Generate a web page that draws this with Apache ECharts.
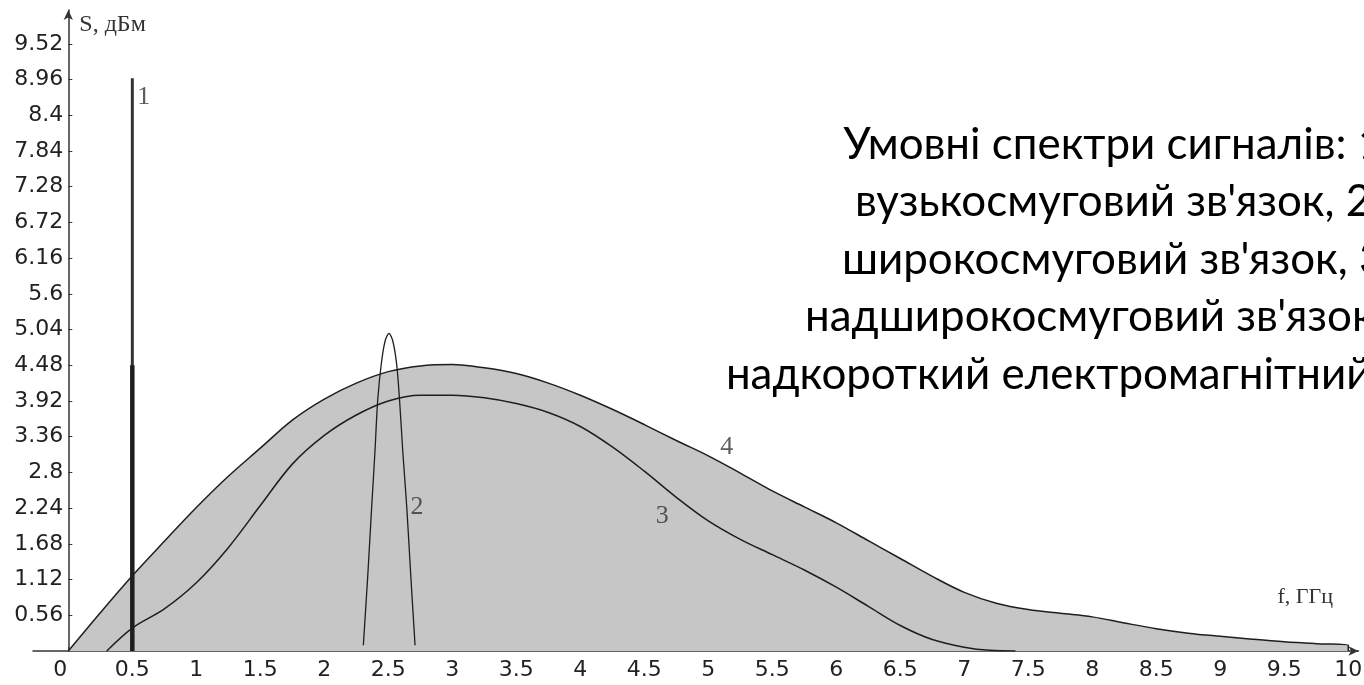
<!DOCTYPE html>
<html>
<head>
<meta charset="utf-8">
<script src="https://cdn.jsdelivr.net/npm/echarts@6/dist/echarts.min.js"></script>
<style>
html,body{margin:0;padding:0;background:#fff;}
#chart{width:1364px;height:685px;}
</style>
</head>
<body>
<div id="chart"></div>
<script>
// ---- data ----
const freqTicks = [0, 0.5, 1, 1.5, 2, 2.5, 3, 3.5, 4, 4.5, 5, 5.5, 6, 6.5, 7, 7.5, 8, 8.5, 9, 9.5, 10];
const powerTicks = [0.56, 1.12, 1.68, 2.24, 2.8, 3.36, 3.92, 4.48, 5.04, 5.6, 6.16, 6.72, 7.28, 7.84, 8.4, 8.96, 9.52];

// 1 – narrowband (vertical line at 0.5 GHz)
const narrowband = [[0.5, 0], [0.5, 8.98]];
const narrowbandCore = [[0.5, 0], [0.5, 4.48]];
// 2 – wideband
const wideband = [[2.305, 0.09], [2.34, 1.2], [2.37, 2.26], [2.395, 3.1], [2.417, 3.93], [2.445, 4.5], [2.475, 4.86], [2.505, 4.98],
  [2.535, 4.86], [2.565, 4.5], [2.588, 3.93], [2.614, 3.1], [2.644, 2.26], [2.675, 1.2], [2.709, 0.09]];
// 3 – ultra-wideband
const ultraWideband = [[0.3, 0], [0.5, 0.36], [0.75, 0.66], [1.0, 1.07], [1.25, 1.62], [1.5, 2.28], [1.75, 2.93], [2.0, 3.38],
  [2.25, 3.7], [2.5, 3.92], [2.75, 4.01], [3.0, 4.01], [3.25, 3.97], [3.5, 3.88], [3.75, 3.74], [4.0, 3.52], [4.25, 3.2],
  [4.5, 2.82], [4.75, 2.41], [5.0, 2.04], [5.25, 1.75], [5.5, 1.51], [5.75, 1.27], [6.0, 1.0], [6.25, 0.7], [6.5, 0.4],
  [6.75, 0.18], [7.0, 0.06], [7.2, 0.01], [7.4, 0]];
// 4 – ultra-short EM pulse
const shortPulse = [[0, 0], [0.25, 0.6], [0.5, 1.18], [0.75, 1.72], [1.0, 2.25], [1.25, 2.74], [1.5, 3.18], [1.75, 3.62], [2.0, 3.95],
  [2.25, 4.2], [2.5, 4.38], [2.75, 4.47], [3.0, 4.49], [3.25, 4.44], [3.5, 4.35], [3.75, 4.2], [4.0, 4.01], [4.25, 3.79],
  [4.5, 3.55], [4.75, 3.3], [5.0, 3.06], [5.25, 2.79], [5.5, 2.51], [5.75, 2.26], [6.0, 2.01], [6.25, 1.73], [6.5, 1.45],
  [6.75, 1.17], [7.0, 0.92], [7.25, 0.75], [7.5, 0.65], [7.75, 0.59], [8.0, 0.535], [8.25, 0.44], [8.5, 0.35], [8.75, 0.28],
  [9.0, 0.23], [9.25, 0.185], [9.5, 0.145], [9.75, 0.115], [10, 0.09], [10, 0]];

const curveNames = ['1', '2', '3', '4'];
const captionLines = [
  'Умовні спектри сигналів: 1 –',
  'вузькосмуговий зв\'язок, 2 –',
  'широкосмуговий зв\'язок, 3 –',
  'надширокосмуговий зв\'язок, 4 –',
  'надкороткий електромагнітний імпульс'
];

// ---- caption sizing ----
const capFamily = "Lato, 'Open Sans', sans-serif";
const cv = document.createElement('canvas').getContext('2d');
function measure(t, size) { cv.font = size + 'px ' + capFamily; return cv.measureText(t).width; }
const capSize = 100 * 515 / measure('Умовні спектри сигналів: ', 100);
const capCenter = 843 + measure(captionLines[0], capSize) / 2;

const ink = '#1e1e1e';
const tickFont = { fontFamily: 'DejaVu Sans', fontSize: 22, color: '#222' };
const chart = echarts.init(document.getElementById('chart'), null, { renderer: 'canvas' });
const lineSeries = (name, data, width, extra) => Object.assign({
  name, type: 'line', data, showSymbol: false, symbol: 'none', silent: true,
  lineStyle: { color: ink, width: width }, z: 3
}, extra || {});

chart.setOption({
  animation: false,
  backgroundColor: '#ffffff',
  grid: { left: 33, right: 5.5, top: 10, bottom: 34, containLabel: false, outerBoundsMode: 'none' },
  xAxis: {
    type: 'value', min: -0.276, max: 10.08,
    name: 'f, ГГц', nameLocation: 'end', nameGap: -81,
    nameTextStyle: { fontFamily: 'Liberation Serif', fontSize: 22, color: '#333', align: 'left', verticalAlign: 'bottom', padding: [0, 0, 43, 0] },
    axisLine: { show: true, onZero: true, symbol: ['none', 'arrow'], symbolSize: [7, 10], lineStyle: { color: '#333', width: 1.5 } },
    axisTick: { show: true, inside: true, length: 4, customValues: freqTicks, lineStyle: { color: '#333' } },
    axisLabel: Object.assign({
      customValues: freqTicks, margin: 8,
      formatter: v => v === 0 ? '{z|0}' : String(v),
      rich: { z: Object.assign({ padding: [0, 16, 0, 0] }, tickFont) }
    }, tickFont),
    splitLine: { show: false }
  },
  yAxis: {
    type: 'value', min: 0, max: 10.05, offset: -35.3,
    name: 'S, дБм', nameLocation: 'end', nameGap: -15,
    nameTextStyle: { fontFamily: 'Liberation Serif', fontSize: 24, color: '#333', align: 'left', verticalAlign: 'middle', padding: [0, 0, 0, 11] },
    axisLine: { show: true, onZero: false, symbol: ['none', 'arrow'], symbolSize: [7, 10], lineStyle: { color: '#333', width: 1.5 } },
    axisTick: { show: true, inside: true, length: 4, customValues: powerTicks, lineStyle: { color: '#333' } },
    axisLabel: Object.assign({ customValues: powerTicks, margin: 5 }, tickFont),
    splitLine: { show: false }
  },
  series: [
    lineSeries('4', shortPulse, 1.5, { smooth: 0.35, areaStyle: { color: '#c6c6c6', opacity: 1 }, z: 2 }),
    lineSeries('3', ultraWideband, 1.5, { smooth: 0.35 }),
    lineSeries('2', wideband, 1.3, { smooth: 0.3 }),
    lineSeries('1', narrowband, 3, { lineStyle: { color: '#333', width: 3 } }),
    lineSeries('1core', narrowbandCore, 4.5),
    {
      type: 'scatter', symbolSize: 0, silent: true, z: 5,
      data: [
        { value: [0.59, 8.68], name: curveNames[0] },
        { value: [2.725, 2.26], name: curveNames[1] },
        { value: [4.64, 2.12], name: curveNames[2] },
        { value: [5.145, 3.2], name: curveNames[3] }
      ],
      label: { show: true, position: 'inside', formatter: p => p.name, fontFamily: 'Liberation Serif', fontSize: 26, color: '#333' }
    }
  ],
  graphic: [{
    type: 'text', x: capCenter, y: 116, silent: true,
    style: {
      text: captionLines.join('\n'), fill: '#000', align: 'center', verticalAlign: 'top',
      font: capSize.toFixed(1) + 'px ' + capFamily, lineHeight: 57.5
    }
  }]
});
</script>
</body>
</html>
